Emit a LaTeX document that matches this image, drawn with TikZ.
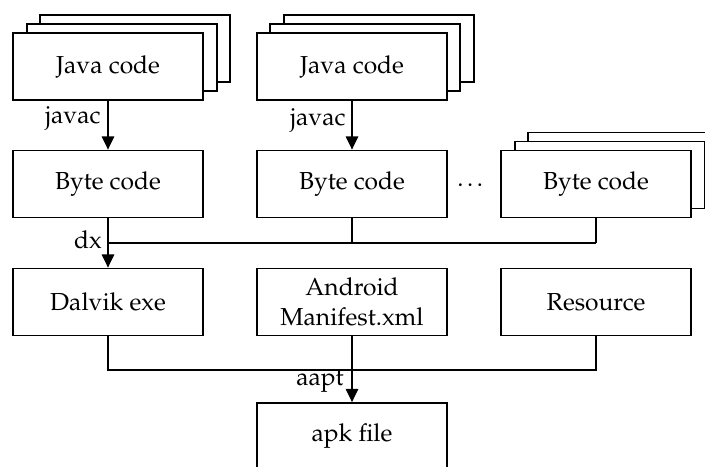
\documentclass[tikz,border=0pt]{standalone}
\usepackage[T1]{fontenc}
\usepackage{mathpazo}
\usetikzlibrary{arrows.meta}
\begin{document}
\begin{tikzpicture}[x=0.02cm,y=-0.02cm,
  box/.style={draw,line width=1pt,fill=white,minimum width=3.8cm,minimum height=1.34cm,inner sep=0pt,align=center,font=\fontsize{14}{17}\selectfont},
  lbl/.style={font=\fontsize{14}{17}\selectfont,inner sep=0pt},
  conn/.style={line width=1pt},
  arr/.style={conn,-{Triangle[width=7pt,length=7.5pt]}}]
\useasboundingbox (0,0) rectangle (705,466);
\clip (0,0) rectangle (705,466);
% stacks
\node[box] (j1c) at (135,48.5) {};
\node[box] (j1b) at (122,57.5) {};
\node[box] (j1) at (108,66.5) {Java code};
\node[box] (j2c) at (379,48.5) {};
\node[box] (j2b) at (365,57.5) {};
\node[box] (j2) at (352,66.5) {Java code};
\node[box] (b1) at (108,184) {Byte code};
\node[box] (b2) at (352,184) {Byte code};
\node[box] (b3c) at (623,166) {};
\node[box] (b3b) at (610,175) {};
\node[box] (b3) at (596,184) {Byte code};
\node[box] (d1) at (108,302) {Dalvik exe};
\node[box] (am) at (352,302) {Android\\Manifest.xml};
\node[box] (rs) at (596,302) {Resource};
\node[box] (apk) at (352,436.5) {apk file};
% labels
\node[lbl] (lj1) at (73,118) {javac};
\node[lbl] (lj2) at (318,120) {javac};
\node[lbl] (ldx) at (88,240) {dx};
\node[lbl] (laapt) at (320,382) {aapt};
\node[lbl] (ldots) at (472,185) {\dots};
% connectors
\coordinate (bus) at (352,243);
\coordinate (bus2) at (352,370);
\draw[arr] (j1) -- (b1);
\draw[arr] (j2) -- (b2);
\draw[arr] (b1) -- (d1);
\draw[conn] (b2.south) -- (b2.south |- bus);
\draw[conn] (b3.south) -- (b3.south |- bus);
\draw[conn] (b1.south |- bus) -- (b3.south |- bus);
\draw[conn] (d1.south) |- (rs.south |- bus2) -- (rs.south);
\draw[arr] (am) -- (apk);
\end{tikzpicture}
\end{document}
